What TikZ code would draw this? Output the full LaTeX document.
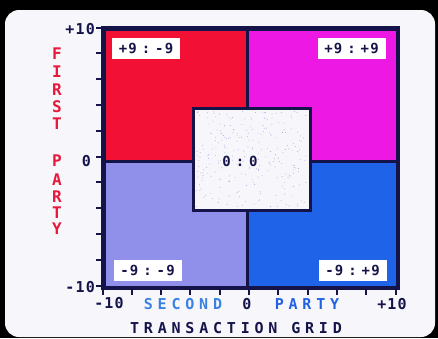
\documentclass[tikz,border=0pt]{standalone}
\usepackage{fontspec}
\usepackage{xcolor}
\newfontfamily\crtfont{DejaVu Sans Mono}[LetterSpace=8]
\newfontfamily\crtwide{DejaVu Sans Mono}[LetterSpace=32]
\newcommand{\gap}{\hspace{5pt}}
\definecolor{screen}{HTML}{F6F6FB}
\definecolor{grid-navy}{HTML}{14144A}
\definecolor{quad-red}{HTML}{F21034}
\definecolor{quad-magenta}{HTML}{EE18E4}
\definecolor{quad-lavender}{HTML}{9090EA}
\definecolor{quad-blue}{HTML}{1F64E8}
\definecolor{first-red}{HTML}{E8183C}
\definecolor{second-blue}{HTML}{3A82E2}
\definecolor{party-blue}{HTML}{2462E4}
\definecolor{speck}{HTML}{B8A0D8}

\begin{document}
\begin{tikzpicture}[x=1pt, y=-1pt,
    every node/.style={font=\crtfont\bfseries\fontsize{14}{14}\selectfont, text=grid-navy},
    quad/.style={draw=grid-navy, line width=3pt, inner sep=0pt},
    score/.style={fill=white, inner sep=0pt, minimum width=68pt, minimum height=21pt},
    axis/.style={font=\crtfont\bfseries\fontsize{15}{15}\selectfont, inner sep=1pt},
    title/.style={font=\crtwide\bfseries\fontsize{15}{15}\selectfont}]
    \useasboundingbox (0,0) rectangle (438,338);
    \fill[black] (0,0) rectangle (438,338);
    \fill[screen, rounded corners=14pt] (5,10) rectangle (435,337);
    \node[quad, fill=quad-red, minimum width=143pt, minimum height=132pt]
      (ul) at (175.5, 95) {};
    \node[quad, fill=quad-magenta, minimum width=150pt, minimum height=132pt]
      (ur) at (322, 95) {};
    \node[quad, fill=quad-lavender, minimum width=143pt, minimum height=126pt]
      (ll) at (175.5, 224) {};
    \node[quad, fill=quad-blue, minimum width=150pt, minimum height=126pt]
      (lr) at (322, 224) {};
    \draw[grid-navy, line width=3pt] (ul.north west) rectangle (lr.south east);
    \node[quad, fill=screen, minimum width=117pt, minimum height=102pt]
      (mid) at (251.5, 159) {};
    \pgfmathsetseed{11}
    \foreach \i in {1,...,260}
      \fill[speck] ({196+111*rnd}, {111+96*rnd}) circle (0.45pt);
    \node[score] (ppm) at (146, 48.5) {+9\gap:\gap-9};
    \node[score] (ppp) at (351.5, 48.5) {+9\gap:\gap+9};
    \node[score] (pmm) at (147.5, 270) {-9\gap:\gap-9};
    \node[score] (pmp) at (352.5, 270) {-9\gap:\gap+9};
    \node (zz) at (240, 161) {0\gap:\gap0};
    \foreach \k in {0,...,10}
      \draw[grid-navy, line width=2pt] (ul.north west) ++(0, 25.8*\k) -- ++(-7, 0);
    \foreach \k in {0,...,10}
      \draw[grid-navy, line width=2pt] (ll.south west) ++(29.3*\k, 0) -- ++(0, 6);
    \node[axis, anchor=east] (ytop) at (96, 29) {+10};
    \node[axis, anchor=east] (ymid) at (92, 161) {0};
    \node[axis, anchor=east] (ybot) at (96, 287) {-10};
    \node[axis] (xlft) at (109, 303) {-10};
    \node[axis] (xmid) at (247, 304) {0};
    \node[axis] (xrgt) at (392, 304) {+10};
    \node[title, text=second-blue] (second) at (183, 304) {SECOND};
    \node[title, text=party-blue] (party) at (307, 304) {PARTY};
    \node[title] (grid) at (236, 328) {TRANSACTION GRID};
    \foreach \ch/\yy in {F/54, I/72, R/90, S/107, T/124, P/161, A/180, R/197, T/213, Y/229}
      \node[text=first-red, font=\crtfont\bfseries\fontsize{16}{16}\selectfont]
        (first-\yy) at (57, \yy) {\ch};
  \end{tikzpicture}
\end{document}
